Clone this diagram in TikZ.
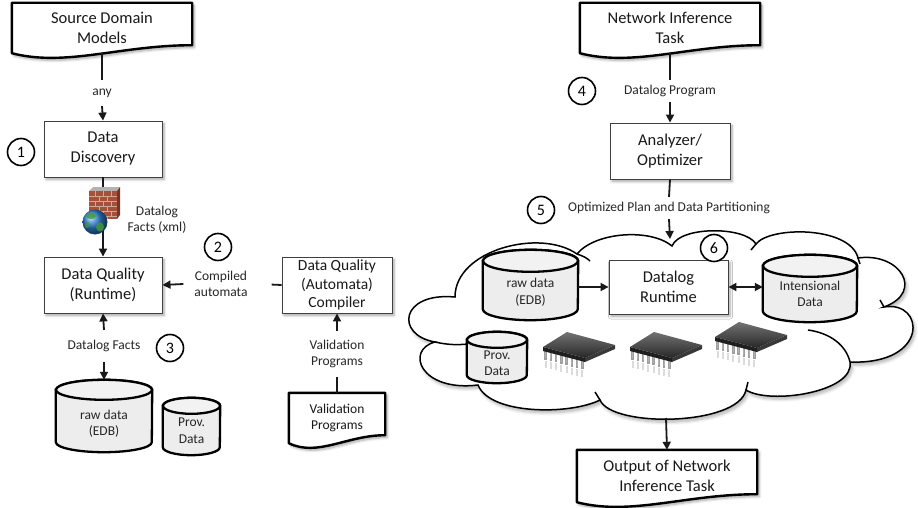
\documentclass[tikz,border=0pt]{standalone}
\usepackage{fontspec}
\setmainfont{Carlito}
\usetikzlibrary{arrows.meta,calc,shadows.blur}

\pgfdeclarelayer{cloudlayer}
\pgfsetlayers{cloudlayer,main}

\definecolor{brickred}{HTML}{A4503A}
\definecolor{brickdark}{HTML}{7A3426}
\definecolor{mortar}{HTML}{D2A595}
\definecolor{globeblue}{HTML}{2F7FD0}
\definecolor{globegreen}{HTML}{3F9A3A}

\tikzset{
  softshadow/.style={blur shadow={shadow xshift=2pt,shadow yshift=-2.5pt,shadow blur radius=2.5pt,shadow blur steps=6,shadow opacity=35}},
  procbox/.style={rectangle, draw=black!75, line width=0.9pt, fill=white, align=center, inner sep=0pt,
    font=\fontsize{16.5}{20}\selectfont, text=black!90, softshadow},
  frame/.style={rectangle, draw=none, inner sep=0pt},
  doctext/.style={align=center, inner sep=0pt, font=\fontsize{16.5}{20}\selectfont, text=black!90},
  docshape/.style={draw=black, line width=2.4pt, fill=white, line join=round, softshadow},
  cyltext/.style={align=center, inner sep=0pt, font=\fontsize{13.5}{16.5}\selectfont, text=black!85},
  cylbody/.style={draw=black, line width=2.3pt, fill=black!7},
  cyltop/.style={draw=black, line width=2.3pt, fill=black!5},
  lbl/.style={align=center, inner sep=4pt, font=\fontsize{13.5}{16}\selectfont, text=black!85},
  numc/.style={circle, draw=black, line width=1.6pt, fill=white, minimum size=27pt, inner sep=0pt,
    font=\fontsize{16}{16}\selectfont},
  conn/.style={line width=1.8pt, draw=black!90},
  arr/.style={conn, -{Triangle[length=8pt,width=8pt]}},
  darr/.style={conn, {Triangle[length=8pt,width=8pt]}-{Triangle[length=8pt,width=8pt]}},
  cloudline/.style={draw=black, line width=1.5pt},
  pics/chip/.style={code={
    % pins along the front edge, with a faint reflection below
    \foreach \i in {0,...,7}{
      \pgfmathsetmacro\px{-33.4+5.25*\i}
      \pgfmathsetmacro\py{5.7+1.375*\i}
      \draw[line width=2.3pt, draw=black!38] (\px,\py) -- ++(0,9);
      \draw[line width=1.2pt, draw=white!70!black] (\px,\py+1) -- ++(0,6);
      \draw[line width=2.1pt, draw=black!14] (\px,\py+10) -- ++(0,7);
    }
    % package body
    \fill[black!88] (-36,2) -- (6,13) -- (6,17) -- (-36,6) -- cycle;
    \fill[black!78] (6,13) -- (36,0) -- (36,4) -- (6,17) -- cycle;
    \shade[top color=black!55, bottom color=black!85] (-36,2) -- (-12,-13) -- (36,0) -- (6,13) -- cycle;
  }},
}

\begin{document}
\begin{tikzpicture}[x=1pt,y=-1pt]
\useasboundingbox (0,0) rectangle (918,508);

% ---------- frames of documents and cylinders (text is set on top later) ----------
\node[frame, minimum width=180pt, minimum height=50pt] (sdm) at (102,28) {};
\node[frame, minimum width=96pt, minimum height=50pt] (vpd) at (337,418) {};
\node[frame, minimum width=180pt, minimum height=50pt] (nit) at (670,28) {};
\node[frame, minimum width=180pt, minimum height=52pt] (outd) at (667,476) {};
\node[frame, minimum width=96pt, minimum height=62pt] (raw1) at (104,421) {};
\node[frame, minimum width=57pt, minimum height=49pt] (prov1) at (191.5,430.5) {};
\node[frame, minimum width=95pt, minimum height=59pt] (raw2) at (530.5,290.5) {};
\node[frame, minimum width=94pt, minimum height=56pt] (ints) at (810,294) {};
\node[frame, minimum width=60pt, minimum height=43pt] (prov2) at (497,361.5) {};

% documents: outline with a wavy lower edge
\foreach \d in {sdm,vpd,nit,outd}{
  \path[docshape] (\d.south west)
    .. controls ($(\d.south west)!0.3!(\d.south east)+(0,14)$)
            and ($(\d.south west)!0.6!(\d.south east)+(0,-8)$)
    .. ($(\d.south east)+(0,-8)$) -- (\d.north east) -- (\d.north west) -- cycle;
}
% cylinders: each frame spans from the top ellipse centre to the base
\foreach \c/\rx/\ry in {raw1/48/10, prov1/28.5/8, raw2/47.5/11, ints/47/11, prov2/30/8}{
  \path[cylbody] (\c.north west) -- ($(\c.south west)+(0,-\ry)$)
    arc[start angle=180,end angle=360,x radius=\rx pt,y radius=\ry pt]
    -- (\c.north east)
    arc[start angle=0,end angle=180,x radius=\rx pt,y radius=\ry pt] -- cycle;
  \path[cyltop] (\c.north) ellipse[x radius=\rx pt,y radius=\ry pt];
}

\node[doctext] (sdm-t) at (sdm.center) {Source Domain\\Models};
\node[doctext, font=\fontsize{13.5}{16}\selectfont] (vpd-t) at (vpd.center) {Validation\\Programs};
\node[doctext] (nit-t) at (nit.center) {Network Inference\\Task};
\node[doctext] (outd-t) at (outd.center) {Output of Network\\Inference Task};
\node[cyltext] (raw1-t) at ($(raw1.center)+(0,2.5)$) {raw data\\(EDB)};
\node[cyltext] (prov1-t) at (prov1.center) {Prov.\\Data};
\node[cyltext] (raw2-t) at ($(raw2.center)+(0,1.5)$) {raw data\\(EDB)};
\node[cyltext] (ints-t) at (ints.center) {Intensional\\Data};
\node[cyltext] (prov2-t) at ($(prov2.center)+(0,1.5)$) {Prov.\\Data};

% ---------------- data quality pipeline ----------------
\node[lbl, inner ysep=8.5pt] (any) at (102,93) {any};
\node[procbox, minimum width=118pt, minimum height=56pt] (dd) at (103,149) {Data\\Discovery};
\node[numc] (n1) at (21,152) {1};
\node[lbl, inner sep=1pt] (dfx) at (157,220) {Datalog\\Facts (xml)};
\node[procbox, minimum width=118pt, minimum height=56pt] (dq) at (103,285) {Data Quality\\(Runtime)};
\node[numc] (n2) at (218,247) {2};
\node[lbl, inner xsep=11pt] (ca) at (221,284) {Compiled\\automata};
\node[procbox, minimum width=110pt, minimum height=56pt, font=\fontsize{15.5}{18.5}\selectfont] (comp) at (337,285) {Data Quality\\(Automata)\\Compiler};
\node[lbl, inner ysep=9pt] (vpl) at (337,354) {Validation\\Programs};
\node[lbl, inner ysep=10pt] (dfl) at (104,346) {Datalog Facts};
\node[numc] (n3) at (170,348) {3};

\draw[conn] (sdm.south) -- (any.north);
\draw[arr] (any.south) -- (dd.north);
\draw[arr] (dd.south) -- (dq.north);
\draw[conn, shorten >=13pt] (comp.west) -- (ca.east);
\draw[arr] (ca.west) -- (dq.east);
\draw[arr] (dfl.north) -- (dq.south);
\draw[arr, shorten >=10pt] (dfl.south) -- (raw1.north);
\draw[conn] (vpd.north) -- (vpl.south);
\draw[arr] (vpl.north) -- (comp.south);

% firewall with globe
\fill[black!30] (89,191) -- (93,187) -- (120,187) -- (117,191) -- cycle;
\fill[brickred] (89,191) rectangle (117,219);
\fill[brickdark] (117,191) -- (120,187) -- (120,215) -- (117,219) -- cycle;
\foreach \yy in {196,201,...,216} \draw[mortar, line width=0.6pt] (89,\yy) -- (117,\yy);
\foreach \xx in {95,103,111} \draw[mortar, line width=0.6pt] (\xx,191) -- (\xx,196) (\xx,201) -- (\xx,206) (\xx,211) -- (\xx,216);
\foreach \xx in {99,107} \draw[mortar, line width=0.6pt] (\xx,196) -- (\xx,201) (\xx,206) -- (\xx,211) (\xx,216) -- (\xx,219);
\shade[ball color=globeblue] (95,222) circle[radius=12.5pt];
\fill[globegreen, opacity=.85] (91,216) ellipse[x radius=5pt, y radius=3pt];
\fill[globegreen, opacity=.85] (100,227) ellipse[x radius=4pt, y radius=4.5pt];
\fill[globegreen, opacity=.7] (87,225) ellipse[x radius=2.5pt, y radius=3pt];

% ---------------- network inference pipeline ----------------
\node[lbl, inner ysep=5pt] (dpl) at (670,91) {Datalog Program};
\node[numc] (n4) at (582,91) {4};
\node[procbox, minimum width=120pt, minimum height=56pt] (ao) at (670,151) {Analyzer/\\Optimizer};
\node[lbl, inner ysep=5pt] (opl) at (669,208) {Optimized Plan and Data Partitioning};
\node[numc] (n5) at (541,210) {5};
\coordinate (cloudtop) at (670,239);
\node[procbox, minimum width=119pt, minimum height=54pt] (dr) at (668.5,287) {Datalog\\Runtime};
\node[numc] (n6) at (714,248) {6};
\coordinate (cloudbot) at (666,418);

\draw[conn] (nit.south) -- (dpl.north);
\draw[arr] (dpl.south) -- (ao.north);
\draw[conn] (ao.south) -- (opl.north);
\draw[arr] (opl.south) -- (cloudtop);
\draw[arr] (raw2.east |- dr.west) -- (dr.west);
\draw[darr] (dr.east) -- (dr.east -| ints.west);
\draw[arr] (cloudbot) -- (outd.north);

% processors
\pic at (579,345) {chip};
\pic at (666,345) {chip};
\pic at (751,335) {chip};

% cloud
\begin{pgfonlayer}{cloudlayer}
  \path[cloudline, fill=white, blur shadow={shadow xshift=2pt,shadow yshift=-3pt,shadow blur radius=3pt,shadow blur steps=6,shadow opacity=30}]
    (455,297) .. controls (455,250) and (540,228) .. (577,254)
    .. controls (595,232) and (650,228) .. (672,246)
    .. controls (680,226) and (745,226) .. (756,244)
    .. controls (770,226) and (850,226) .. (858,258)
    .. controls (900,252) and (925,292) .. (884,307)
    .. controls (925,300) and (930,365) .. (850,362)
    .. controls (855,392) and (770,405) .. (746,390)
    .. controls (738,426) and (612,428) .. (600,400)
    .. controls (570,415) and (490,415) .. (478,385)
    .. controls (420,392) and (405,350) .. (435,342)
    .. controls (395,335) and (400,292) .. (455,297) -- cycle;
  \draw[cloudline] (577,254) .. controls (583,256) and (587,258) .. (590,261);
  \draw[cloudline] (756,244) -- (751,250);
  \draw[cloudline] (858,258) -- (860,264);
  \draw[cloudline] (884,307) -- (880,300);
  \draw[cloudline] (808,330) .. controls (830,333) and (846,345) .. (850,362);
  \draw[cloudline] (746,390) -- (748,382);
  \draw[cloudline] (600,400) -- (595,392);
  \draw[cloudline] (435,342) .. controls (448,345) and (458,345) .. (468,344);
\end{pgfonlayer}
\end{tikzpicture}
\end{document}
